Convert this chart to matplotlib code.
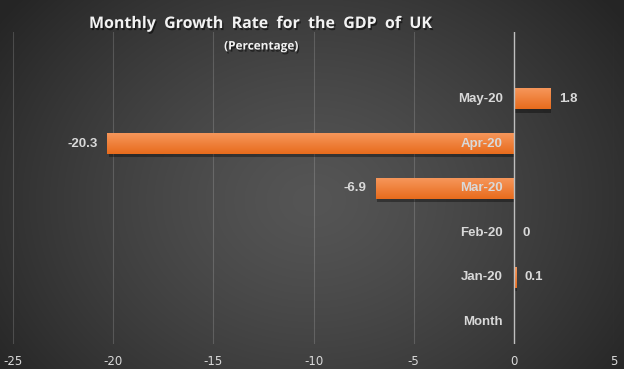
import numpy as np
import matplotlib
matplotlib.use("Agg")
import matplotlib.pyplot as plt
import matplotlib.patheffects as pe

categories = ["Month", "Jan-20", "Feb-20", "Mar-20", "Apr-20", "May-20"]
values = [np.nan, 0.1, 0.0, -6.9, -20.3, 1.8]
value_labels = ["", "0.1", "0", "-6.9", "-20.3", "1.8"]
xticks = [-25, -20, -15, -10, -5, 0, 5]

W, H = 624, 369
fig = plt.figure(figsize=(W / 100, H / 100), dpi=100)

# radial gradient background
bg = fig.add_axes([0, 0, 1, 1], zorder=-10)
yy, xx = np.mgrid[0:H, 0:W]
cx, cy = 312, 200
r = np.sqrt(((xx - cx) / (W * 0.62)) ** 2 + ((yy - cy) / (H * 0.85)) ** 2)
r = np.clip(r, 0, 1)
c0, c1 = 0x55 / 255, 0x25 / 255
img = c0 + (c1 - c0) * r ** 1.3
bg.imshow(np.dstack([img, img, img]), aspect="auto", extent=[0, 1, 0, 1], origin="upper")
bg.axis("off")

ax = fig.add_axes([13 / W, 1 - 344.3 / H, (614 - 13) / W, (344.3 - 32) / H])
ax.patch.set_alpha(0)
ax.set_xlim(-25, 5)
ax.set_ylim(-0.5, 6.5)
ypos = np.arange(len(categories))

bars = ax.barh(ypos, np.nan_to_num(values), height=0.47, color="#ef7b2f",
               zorder=3, edgecolor="none")
grad = np.linspace(0, 1, 64).reshape(-1, 1)
top = np.array([0xf6, 0x96, 0x5b]) / 255
bot = np.array([0xe8, 0x6c, 0x1c]) / 255
gimg = top[None, None, :] * (1 - grad[:, :, None]) + bot[None, None, :] * grad[:, :, None]
for b, v in zip(bars, values):
    if np.isnan(v) or v == 0:
        continue
    b.set_path_effects([pe.SimplePatchShadow(offset=(1, -2.5), shadow_rgbFace="black", alpha=0.35), pe.Normal()])
    x0, y0, w, h = b.get_x(), b.get_y(), b.get_width(), b.get_height()
    im = ax.imshow(gimg, extent=[x0, x0 + w, y0, y0 + h], aspect="auto", origin="upper", zorder=4)
    im.set_clip_path(b)
ax.set_xlim(-25, 5)
ax.set_ylim(-0.5, 6.5)

# gridlines
for t in xticks:
    if t == 0:
        ax.axvline(t, color="#bfbfbf", lw=1.0, zorder=5)
    else:
        ax.axvline(t, color="#ffffff", alpha=0.16, lw=0.8, zorder=2)

for s in ax.spines.values():
    s.set_visible(False)
ax.set_yticks([])
ax.set_xticks(xticks)
ax.set_xticklabels([str(t) for t in xticks])
ax.tick_params(axis="x", length=0, colors="#d9d9d9", labelsize=8.5, pad=8)

# category labels next to axis
for y, c in zip(ypos, categories):
    ax.text(-0.55, y, c, ha="right", va="center", color="#d9d9d9", fontsize=9.5,
            fontweight="bold", family="Liberation Sans", zorder=6)

# data labels
for y, v, lab in zip(ypos, values, value_labels):
    if np.isnan(v):
        continue
    if v < 0:
        ax.text(v - 0.45, y, lab, ha="right", va="center", color="#d9d9d9", fontsize=9.5,
                fontweight="bold", family="Liberation Sans", zorder=6)
    else:
        ax.text(v + 0.45, y, lab, ha="left", va="center", color="#d9d9d9", fontsize=9.5,
                fontweight="bold", family="Liberation Sans", zorder=6)

t1 = fig.text(261 / W, 1 - 24 / H, "Monthly  Growth  Rate  for  the  GDP  of  UK", ha="center", va="center",
              color="#f2f2f2", fontsize=11.5, fontweight="bold", family="Open Sans")
t2 = fig.text(261 / W, 1 - 46 / H, "(Percentage)", ha="center", va="center",
              color="#f2f2f2", fontsize=8.5, fontweight="bold", family="Open Sans")
for t in (t1, t2):
    t.set_path_effects([pe.withSimplePatchShadow(offset=(1, -1.5), shadow_rgbFace="black", alpha=0.5)])

fig.savefig("out.png", dpi=100)
